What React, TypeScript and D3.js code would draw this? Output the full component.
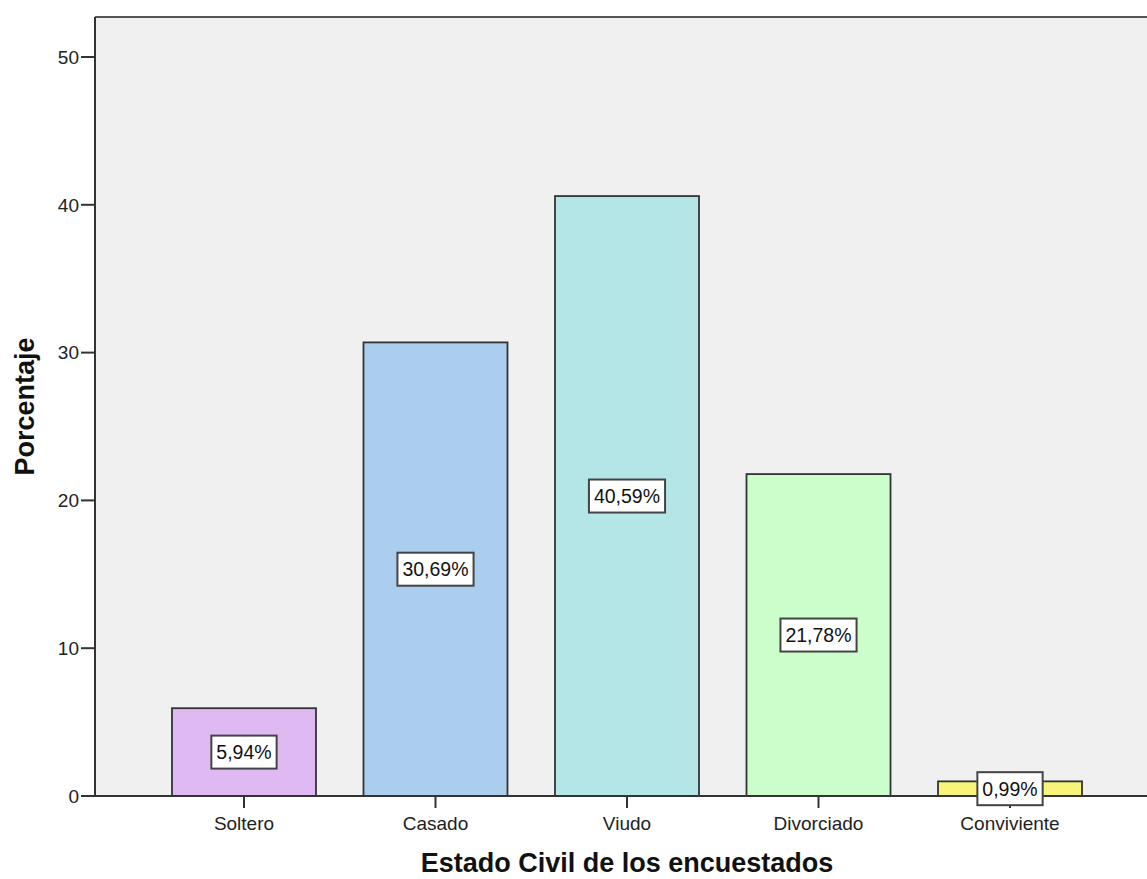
import React from "react";
import * as d3 from "d3";

const categories = ["Soltero", "Casado", "Viudo", "Divorciado", "Conviviente"];
const percentages = [5.94, 30.69, 40.59, 21.78, 0.99];
const barColors = ["#DFB9F1", "#ABCDEE", "#B5E6E7", "#CCFECC", "#F8F47A"];
const yTicks = [0, 10, 20, 30, 40, 50];

const W = 1147;
const H = 879;
const plot = { left: 95, top: 17, right: 1159, bottom: 796 };

// approximate Arial advance widths (em) for the label characters
const charW: Record<string, number> = { ",": 0.278, "%": 0.889 };
const textWidth = (s: string, size: number) =>
  s.split("").reduce((a, ch) => a + (charW[ch] ?? 0.556), 0) * size;

export default function App() {
  const x = d3
    .scaleBand<string>()
    .domain(categories)
    .range([plot.left, plot.right])
    .paddingInner(0.248)
    .paddingOuter(0.402);
  const y = d3.scaleLinear().domain([0, 50]).range([plot.bottom, 57]);
  const font = "Arial, 'Liberation Sans', sans-serif";
  const fmt = (v: number) => v.toFixed(2).replace(".", ",") + "%";
  const labelSize = 19.5;

  return (
    <svg
      width={W}
      height={H}
      style={{ position: "absolute", left: 0, top: 0, display: "block" }}
      fontFamily={font}
    >
      <rect x={0} y={0} width={W} height={H} fill="#ffffff" />
      {/* plot background */}
      <rect
        x={plot.left}
        y={plot.top}
        width={W - plot.left + 5}
        height={plot.bottom - plot.top}
        fill="#F0F0F0"
      />
      <line x1={plot.left} x2={W} y1={plot.top} y2={plot.top} stroke="#555" strokeWidth={2} />

      {/* bars */}
      {categories.map((c, i) => (
        <rect
          key={c}
          x={x(c)!}
          y={y(percentages[i])}
          width={x.bandwidth()}
          height={plot.bottom - y(percentages[i])}
          fill={barColors[i]}
          stroke="#333"
          strokeWidth={1.8}
        />
      ))}

      {/* axes */}
      <line x1={plot.left} x2={plot.left} y1={plot.top} y2={plot.bottom} stroke="#333" strokeWidth={2} />
      <line x1={plot.left} x2={W} y1={plot.bottom} y2={plot.bottom} stroke="#333" strokeWidth={2} />
      {yTicks.map((t) => (
        <g key={t}>
          <line x1={plot.left - 14} x2={plot.left} y1={y(t)} y2={y(t)} stroke="#333" strokeWidth={2} />
          <text x={plot.left - 16} y={y(t)} dy="0.36em" textAnchor="end" fontSize={19} fill="#222">
            {t}
          </text>
        </g>
      ))}
      {categories.map((c) => {
        const cx = x(c)! + x.bandwidth() / 2;
        return (
          <g key={c}>
            <line x1={cx} x2={cx} y1={plot.bottom} y2={plot.bottom + 12} stroke="#333" strokeWidth={2} />
            <text x={cx} y={830} textAnchor="middle" fontSize={19} fill="#222">
              {c}
            </text>
          </g>
        );
      })}

      {/* value labels */}
      {categories.map((c, i) => {
        const cx = x(c)! + x.bandwidth() / 2;
        const cy = (y(percentages[i]) + plot.bottom) / 2;
        const s = fmt(percentages[i]);
        const bw = textWidth(s, labelSize) + 10;
        const bh = 33;
        return (
          <g key={c}>
            <rect
              x={cx - bw / 2}
              y={cy - bh / 2}
              width={bw}
              height={bh}
              fill="#fff"
              stroke="#444"
              strokeWidth={2}
            />
            <text x={cx} y={cy} dy="0.36em" textAnchor="middle" fontSize={labelSize} fill="#111">
              {s}
            </text>
          </g>
        );
      })}

      {/* axis titles */}
      <text
        transform={`translate(34,${(plot.top + plot.bottom) / 2}) rotate(-90)`}
        textAnchor="middle"
        fontSize={27}
        fontWeight="bold"
        fill="#111"
      >
        Porcentaje
      </text>
      <text x={627} y={872} textAnchor="middle" fontSize={27} fontWeight="bold" fill="#111">
        Estado Civil de los encuestados
      </text>
    </svg>
  );
}
